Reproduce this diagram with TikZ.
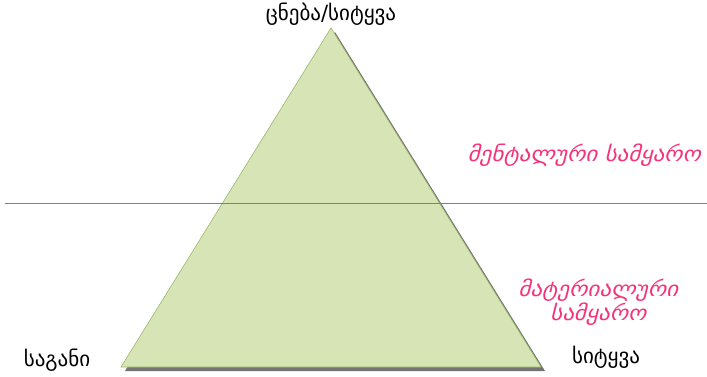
\documentclass[tikz,border=0pt]{standalone}
\usepackage{fontspec}
\setmainfont{DejaVu Sans}
\newfontfamily\geo{DejaVu Sans}
\newfontfamily\geoit[FakeSlant=0.25,FakeStretch=1.1]{DejaVu Sans}
\definecolor{trifill}{HTML}{D7E4B5}
\definecolor{triedge}{HTML}{9BB86A}
\definecolor{pinktxt}{HTML}{F5337A}
\definecolor{linegray}{HTML}{808080}
\tikzset{
  lbl/.style={font=\geo\fontsize{21}{24}\selectfont, text=black, inner sep=0pt},
  pinklbl/.style={font=\geoit\fontsize{21}{21}\selectfont, text=pinktxt, inner sep=0pt, align=center},
}
\begin{document}
\begin{tikzpicture}[x=1pt,y=-1pt]
\useasboundingbox (0,0) rectangle (707,377);
% shadow
\fill[black!55] (335,32) -- (545,371) -- (125,371) -- cycle;
% triangle
\coordinate (apex) at (331,28);
\coordinate (bl) at (121,367);
\coordinate (br) at (541,367);
\filldraw[fill=trifill, draw=triedge, line width=0.6pt] (apex) -- (br) -- (bl) -- cycle;
% divider
\coordinate (dl) at (5,203);
\coordinate (dr) at (707,203);
\draw[linegray, line width=0.8pt] (dl) -- (dr);
% labels
\node[lbl] (top) at (331,14) {ცნება/სიტყვა};
\node[lbl] (left) at (57,360) {საგანი};
\node[lbl] (right) at (606,357) {სიტყვა};
\node[pinklbl] (ment) at (584,155) {მენტალური სამყარო};
\node[pinklbl] (mat) at (598,302) {მატერიალური\\სამყარო};
\end{tikzpicture}
\end{document}
